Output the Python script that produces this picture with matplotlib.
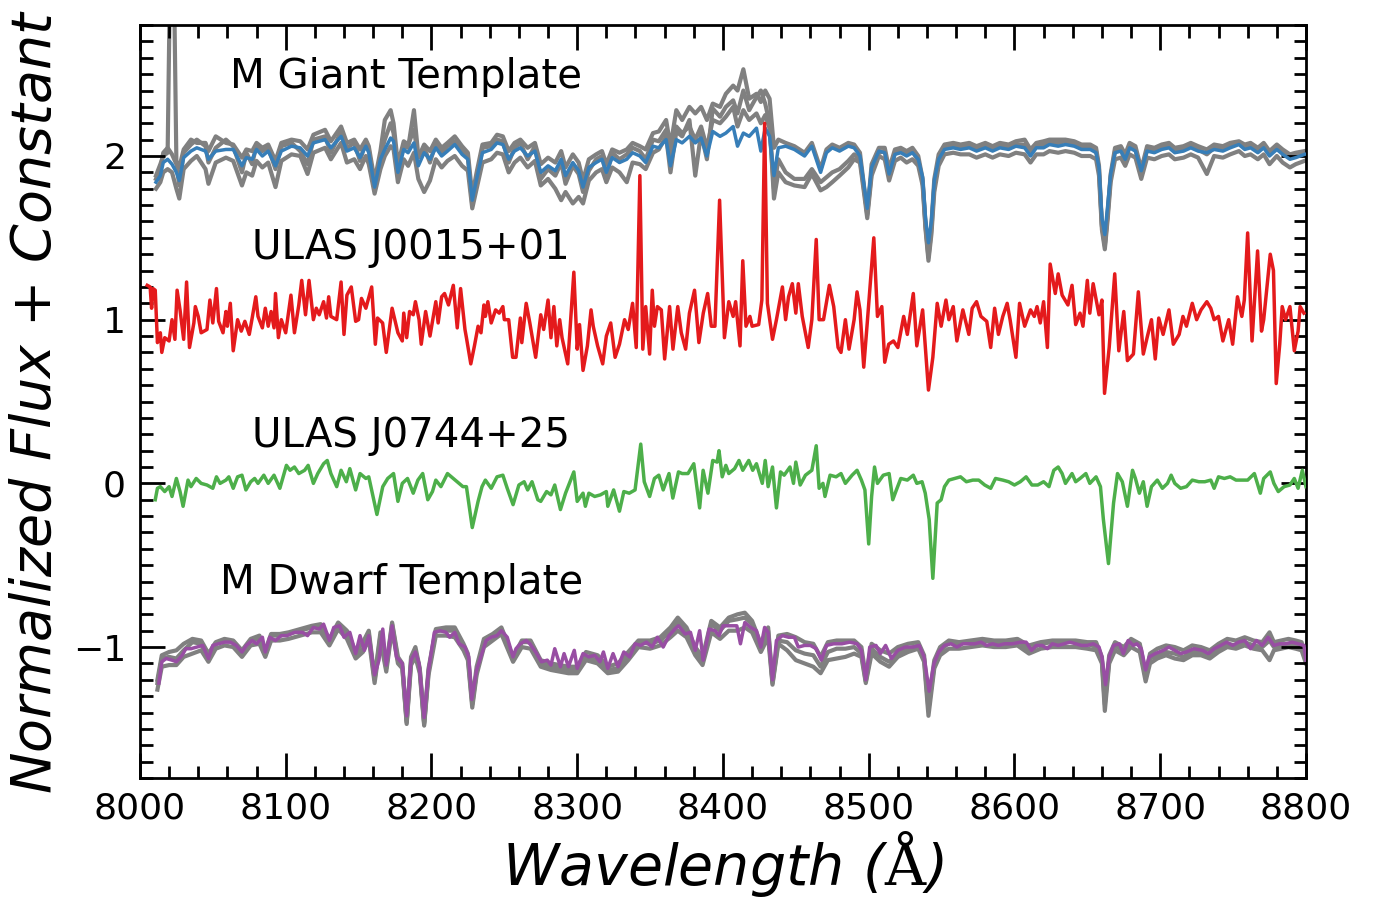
import matplotlib
matplotlib.use("Agg")
import matplotlib.pyplot as plt
from matplotlib.ticker import MultipleLocator

# ---------------- data ----------------
giant_wl = [
    8011, 8014, 8016, 8019, 8022, 8025, 8027, 8030, 8035, 8039,
    8045, 8047, 8052, 8059, 8064, 8070, 8073, 8077, 8080, 8084,
    8088, 8093, 8097, 8104, 8110, 8115, 8119, 8127, 8131, 8138,
    8142, 8147, 8151, 8155, 8157, 8161, 8165, 8168, 8172, 8174,
    8177, 8181, 8184, 8188, 8191, 8195, 8199, 8203, 8207, 8211,
    8216, 8221, 8225, 8228, 8231, 8235, 8241, 8245, 8249, 8253,
    8257, 8261, 8266, 8271, 8275, 8280, 8285, 8289, 8292, 8297,
    8301, 8304, 8308, 8313, 8317, 8320, 8324, 8329, 8334, 8338,
    8343, 8347, 8352, 8356, 8361, 8364, 8368, 8372, 8377, 8381,
    8385, 8389, 8393, 8398, 8402, 8407, 8410, 8414, 8418, 8423,
    8426, 8429, 8432, 8435, 8438, 8443, 8449, 8456, 8461, 8467,
    8471, 8475, 8480, 8486, 8490, 8494, 8497, 8499, 8502, 8507,
    8511, 8514, 8518, 8522, 8526, 8530, 8534, 8537, 8539, 8541,
    8543, 8545, 8548, 8552, 8558, 8563, 8569, 8574, 8580, 8585,
    8590, 8596, 8601, 8607, 8611, 8615, 8620, 8624, 8630, 8635,
    8641, 8646, 8652, 8656, 8658, 8660, 8662, 8664, 8666, 8669,
    8673, 8676, 8679, 8683, 8687, 8691, 8696, 8701, 8706, 8710,
    8716, 8721, 8726, 8732, 8737, 8743, 8748, 8754, 8758, 8762,
    8767, 8771, 8775, 8780, 8784, 8789, 8793, 8799]

giant_template = [
    1.84, 1.88, 1.96, 1.98, 1.95, 1.90, 1.85, 1.99, 2.03, 2.05,
    2.03, 1.98, 2.03, 2.04, 2.04, 1.94, 1.99, 1.98, 2.04, 2.00,
    2.03, 1.94, 2.03, 2.06, 2.05, 2.00, 2.08, 2.10, 2.05, 2.12,
    2.03, 2.05, 1.99, 2.06, 2.02, 1.81, 1.98, 2.04, 2.11, 2.09,
    1.90, 2.04, 2.02, 2.08, 1.94, 2.02, 1.98, 2.05, 2.00, 2.03,
    2.07, 2.01, 1.98, 1.73, 1.86, 2.02, 2.04, 2.08, 2.07, 1.98,
    2.03, 2.05, 2.00, 2.03, 1.90, 1.94, 1.91, 1.98, 1.88, 1.96,
    1.91, 1.81, 1.93, 1.96, 1.98, 1.90, 1.99, 1.96, 1.98, 2.02,
    2.00, 1.96, 2.06, 2.05, 2.10, 1.94, 2.10, 2.08, 2.12, 2.08,
    2.11, 2.00, 2.15, 2.12, 2.14, 2.18, 2.06, 2.14, 2.12, 2.17,
    2.03, 2.17, 2.12, 1.88, 2.05, 2.06, 2.04, 2.00, 2.06, 1.90,
    2.02, 2.05, 2.03, 2.06, 2.05, 2.00, 1.81, 1.68, 1.93, 2.03,
    2.02, 1.89, 2.01, 2.02, 2.00, 2.02, 1.98, 1.87, 1.62, 1.47,
    1.60, 1.85, 1.98, 2.04, 2.05, 2.04, 2.05, 2.03, 2.05, 2.03,
    2.05, 2.04, 2.06, 2.05, 2.00, 2.05, 2.05, 2.07, 2.06, 2.07,
    2.06, 2.04, 2.04, 2.02, 1.93, 1.62, 1.52, 1.70, 1.89, 2.02,
    2.03, 1.98, 2.05, 2.03, 1.91, 2.03, 2.02, 2.04, 2.05, 2.02,
    2.03, 2.05, 2.03, 2.02, 2.04, 2.03, 2.05, 2.07, 2.04, 2.05,
    2.02, 2.05, 2.00, 2.04, 2.01, 1.98, 1.99, 2.01]

giant_star1 = [
    1.88, 1.95, 2.00, 2.02, 4.00, 1.97, 1.93, 2.04, 2.10, 2.08,
    2.08, 2.03, 2.12, 2.08, 2.07, 1.99, 2.04, 2.03, 2.08, 2.05,
    2.07, 1.97, 2.08, 2.10, 2.09, 2.04, 2.13, 2.16, 2.09, 2.18,
    2.08, 2.10, 2.04, 2.10, 2.06, 1.85, 2.03, 2.22, 2.28, 2.20,
    1.95, 2.09, 2.07, 2.16, 1.99, 2.07, 2.03, 2.10, 2.05, 2.08,
    2.12, 2.06, 2.02, 1.76, 1.90, 2.07, 2.08, 2.13, 2.12, 2.03,
    2.08, 2.10, 2.05, 2.08, 1.95, 1.99, 1.96, 2.03, 1.93, 2.01,
    1.96, 1.85, 1.98, 2.01, 2.03, 1.95, 2.04, 2.02, 2.04, 2.08,
    2.06, 2.04, 2.14, 2.15, 2.22, 2.06, 2.28, 2.22, 2.30, 2.26,
    2.30, 2.22, 2.32, 2.30, 2.38, 2.43, 2.40, 2.53, 2.35, 2.38,
    2.33, 2.40, 2.35, 2.05, 2.10, 2.08, 2.06, 2.02, 2.08, 1.92,
    2.04, 2.07, 2.05, 2.08, 2.07, 2.02, 1.80, 1.64, 1.95, 2.05,
    2.05, 1.92, 2.04, 2.05, 2.03, 2.05, 2.00, 1.86, 1.58, 1.40,
    1.58, 1.86, 2.01, 2.07, 2.08, 2.07, 2.08, 2.06, 2.08, 2.06,
    2.08, 2.07, 2.09, 2.10, 2.04, 2.08, 2.09, 2.10, 2.10, 2.10,
    2.09, 2.07, 2.07, 2.05, 1.94, 1.58, 1.46, 1.66, 1.89, 2.05,
    2.06, 2.01, 2.08, 2.06, 1.92, 2.06, 2.05, 2.07, 2.08, 2.05,
    2.06, 2.08, 2.06, 2.04, 2.07, 2.06, 2.08, 2.09, 2.07, 2.08,
    2.05, 2.08, 2.03, 2.07, 2.04, 2.01, 2.02, 2.03]

giant_star2 = [
    1.80, 1.84, 1.90, 1.92, 1.90, 1.80, 1.74, 1.92, 1.97, 2.00,
    1.92, 1.83, 1.96, 1.99, 1.97, 1.82, 1.90, 1.88, 1.97, 1.93,
    1.96, 1.81, 1.97, 2.01, 2.00, 1.89, 2.02, 2.05, 1.98, 2.08,
    1.96, 1.98, 1.92, 2.00, 1.95, 1.77, 1.92, 2.00, 2.06, 2.04,
    1.84, 1.98, 1.94, 2.02, 1.86, 1.78, 1.85, 1.98, 1.93, 1.97,
    2.00, 1.94, 1.91, 1.68, 1.80, 1.96, 1.98, 2.02, 2.01, 1.90,
    1.96, 1.99, 1.93, 1.97, 1.82, 1.86, 1.80, 1.73, 1.78, 1.71,
    1.75, 1.71, 1.85, 1.90, 1.92, 1.84, 1.93, 1.90, 1.84, 1.96,
    1.95, 1.92, 2.02, 2.04, 2.12, 1.90, 2.15, 2.12, 2.22, 1.88,
    2.14, 1.98, 2.29, 2.24, 2.30, 2.34, 2.26, 2.40, 2.28, 2.36,
    2.40, 2.32, 2.20, 1.74, 1.90, 1.84, 1.82, 1.81, 1.89, 1.79,
    1.81, 1.84, 1.88, 1.93, 1.98, 1.96, 1.76, 1.62, 1.88, 2.00,
    1.98, 1.85, 1.97, 1.99, 1.96, 1.98, 1.94, 1.82, 1.55, 1.36,
    1.52, 1.78, 1.94, 2.01, 2.02, 2.01, 2.01, 1.99, 2.01, 1.99,
    2.01, 2.00, 2.02, 2.01, 1.96, 2.01, 2.01, 2.03, 2.02, 2.03,
    2.02, 2.00, 2.00, 1.98, 1.88, 1.55, 1.43, 1.62, 1.84, 1.98,
    1.99, 1.94, 2.01, 1.99, 1.86, 1.99, 1.98, 2.00, 2.01, 1.98,
    1.99, 2.01, 1.99, 1.89, 2.00, 1.99, 2.01, 2.03, 2.00, 2.01,
    1.98, 2.01, 1.95, 2.00, 1.96, 1.93, 1.95, 1.97]

giant_star3 = [
    1.86, 1.92, 2.02, 2.05, 2.01, 1.95, 1.82, 2.02, 2.07, 2.10,
    2.06, 1.96, 2.05, 2.10, 2.06, 1.90, 2.02, 1.95, 2.07, 2.03,
    2.05, 1.92, 2.06, 2.08, 2.03, 1.95, 2.10, 2.12, 2.02, 2.15,
    2.05, 2.08, 1.97, 2.09, 2.04, 1.79, 2.00, 2.10, 2.20, 2.14,
    1.92, 2.06, 2.05, 2.28, 2.00, 2.05, 1.96, 2.08, 2.02, 2.06,
    2.09, 2.04, 1.99, 1.70, 1.84, 2.05, 2.06, 2.10, 2.09, 1.96,
    2.05, 2.08, 1.98, 2.06, 1.86, 1.92, 1.88, 1.96, 1.83, 1.94,
    1.89, 1.78, 1.91, 1.98, 2.00, 1.88, 2.02, 1.98, 2.01, 2.05,
    2.03, 1.98, 2.10, 2.09, 2.16, 1.96, 2.18, 2.14, 2.18, 2.10,
    2.18, 2.05, 2.22, 2.20, 2.24, 2.30, 2.18, 2.28, 2.22, 2.26,
    2.20, 2.25, 2.17, 1.80, 1.98, 1.90, 1.86, 1.86, 1.92, 1.84,
    1.87, 1.90, 1.92, 1.97, 2.01, 1.98, 1.78, 1.65, 1.90, 2.02,
    2.03, 1.88, 2.02, 2.03, 2.01, 2.03, 1.97, 1.84, 1.57, 1.38,
    1.55, 1.82, 1.97, 2.05, 2.06, 2.05, 2.06, 2.04, 2.06, 2.04,
    2.06, 2.05, 2.07, 2.07, 2.01, 2.06, 2.07, 2.08, 2.08, 2.09,
    2.07, 2.05, 2.05, 2.03, 1.92, 1.57, 1.45, 1.65, 1.87, 2.03,
    2.04, 1.97, 2.06, 2.04, 1.88, 2.04, 2.03, 2.05, 2.06, 2.03,
    2.04, 2.06, 2.04, 2.01, 2.05, 2.04, 2.06, 2.08, 2.05, 2.06,
    2.03, 2.06, 2.01, 2.05, 2.02, 1.99, 2.00, 2.02]

ulas0015 = [
    (8005, 1.21), (8007, 1.20), (8008, 1.07), (8009, 1.19), (8010.5, 1.18),
    (8012, 0.86), (8014, 0.92), (8015, 0.80), (8017, 0.89), (8020, 0.87),
    (8022, 1.00), (8024, 0.88), (8025.5, 1.18), (8027.5, 1.06), (8030, 0.88),
    (8032, 1.23), (8034, 0.83), (8037, 0.98), (8038, 1.08), (8040, 1.02),
    (8042, 0.92), (8046, 0.94), (8048, 1.12), (8050, 0.98), (8052.5, 1.19),
    (8054, 0.99), (8057, 0.92), (8059, 1.05), (8060, 0.96), (8062, 1.10),
    (8064, 0.81), (8067, 1.00), (8069.5, 0.93), (8072, 0.99), (8075, 0.91),
    (8077, 1.01), (8079.5, 1.14), (8081, 1.02), (8084, 0.95), (8086, 1.07),
    (8088, 0.96), (8090, 1.05), (8092, 0.95), (8093, 1.16), (8095, 0.89),
    (8097, 1.00), (8100, 0.92), (8103.6, 1.15), (8106, 0.92), (8109, 1.09),
    (8111, 1.24), (8113.6, 1.03), (8116, 1.24), (8119, 1.00), (8121, 1.07),
    (8123, 1.03), (8126, 1.11), (8128, 1.01), (8129.5, 1.14), (8131, 1.02),
    (8135, 1.00), (8138, 1.23), (8140, 0.91), (8142, 1.15), (8145, 1.20),
    (8148, 0.99), (8150, 1.00), (8152, 1.13), (8155, 1.07), (8159, 1.20),
    (8161.5, 0.85), (8163, 1.01), (8166.5, 0.98), (8169, 0.80), (8173, 1.07),
    (8177, 0.92), (8180, 0.87), (8181, 1.04), (8183, 0.89), (8185, 1.05),
    (8187.5, 1.03), (8189, 1.11), (8191.5, 1.00), (8193, 0.85), (8196, 1.05),
    (8199, 0.90), (8203, 1.11), (8204.6, 0.98), (8207, 1.14), (8209, 1.16),
    (8211.7, 1.09), (8215, 1.21), (8217.7, 0.95), (8220, 1.19), (8223, 0.94),
    (8224, 0.89), (8227, 0.73), (8229.5, 0.84), (8232, 0.96), (8234, 0.92),
    (8236, 1.09), (8237, 1.02), (8238.7, 1.11), (8241, 0.98), (8244, 1.06),
    (8246.5, 1.04), (8249, 1.08), (8250, 1.00), (8253, 1.00), (8255.7, 0.77),
    (8258, 0.77), (8261, 1.01), (8262, 0.86), (8265, 1.10), (8267.5, 0.98),
    (8271.5, 0.77), (8275, 1.03), (8277, 0.94), (8280, 1.12), (8282, 0.89),
    (8284, 1.08), (8286, 0.84), (8288, 1.00), (8289.6, 0.89), (8293.5, 0.73),
    (8297.7, 1.29), (8300, 0.82), (8301.6, 0.97), (8304, 0.69), (8307, 0.84),
    (8309.5, 1.06), (8311, 0.96), (8314, 0.84), (8317.5, 0.73), (8320, 0.90),
    (8323, 0.98), (8326, 0.77), (8329, 0.85), (8332.5, 1.00), (8335, 0.94),
    (8338, 1.10), (8340.5, 0.83), (8343, 1.88), (8345, 0.82), (8347, 1.08),
    (8349.7, 0.79), (8351.5, 1.18), (8353, 0.96), (8355, 1.08), (8357.7, 1.06),
    (8360, 0.76), (8363.4, 1.08), (8365.7, 0.82), (8369, 1.08), (8371.4, 0.92),
    (8374.4, 0.82), (8377, 1.04), (8380.5, 1.18), (8383.5, 0.86), (8386.5, 1.04),
    (8389.5, 1.16), (8392, 0.96), (8394.5, 0.96), (8397.7, 1.73), (8401, 0.89),
    (8404, 1.11), (8407, 1.02), (8408.7, 1.11), (8411.7, 0.84), (8413.6, 1.36),
    (8415.8, 0.96), (8418.5, 1.02), (8420, 0.96), (8424.5, 0.97), (8426.7, 1.12),
    (8428.6, 2.20), (8430.5, 1.10), (8434, 0.88), (8436.7, 1.00), (8440.8, 1.20),
    (8443, 1.00), (8445, 1.14), (8447.6, 1.22), (8450, 1.04), (8451.7, 1.22),
    (8454.4, 1.02), (8458.5, 0.83), (8461, 1.00), (8464, 1.49), (8466, 1.00),
    (8469, 1.00), (8473, 1.21), (8476, 1.08), (8479, 0.83), (8481, 0.80),
    (8484, 1.00), (8486.5, 0.82), (8490, 1.00), (8492, 1.17), (8494, 1.06),
    (8496.6, 0.71), (8499, 0.98), (8503.5, 1.50), (8506, 1.02), (8509, 1.08),
    (8511, 0.74), (8513.7, 0.85), (8517, 0.87), (8520, 0.83), (8524, 1.02),
    (8526.5, 0.91), (8530.6, 1.16), (8533, 0.84), (8537, 1.06), (8541, 0.57),
    (8544, 0.77), (8547, 1.10), (8549.7, 0.96), (8553, 1.12), (8555, 1.00),
    (8558, 1.08), (8560.5, 0.87), (8564.6, 1.06), (8568.7, 0.91), (8571, 1.07),
    (8574, 1.11), (8577, 1.02), (8581, 0.99), (8583.7, 0.83), (8586.4, 1.07),
    (8589, 0.91), (8592, 1.02), (8595, 1.10), (8597, 1.00), (8601, 0.77),
    (8603.5, 1.10), (8607, 0.96), (8611, 1.06), (8613.6, 1.02), (8615.5, 1.08),
    (8617.7, 0.98), (8620, 1.11), (8622.6, 0.83), (8624.5, 1.34), (8628, 1.16),
    (8630, 1.28), (8632.7, 1.15), (8636.7, 1.09), (8639.5, 1.21), (8642, 0.97),
    (8645, 1.04), (8647, 0.96), (8650, 1.24), (8651.7, 1.04), (8654, 1.22),
    (8658, 1.03), (8660, 1.12), (8661.8, 0.55), (8665, 0.83), (8668.8, 1.28),
    (8671.6, 0.81), (8675, 1.05), (8677.5, 0.75), (8681.6, 0.79), (8685, 1.17),
    (8688.4, 0.79), (8691, 0.89), (8694, 1.00), (8696.6, 0.76), (8699, 1.01),
    (8702, 0.91), (8706, 1.06), (8709, 0.85), (8713, 0.91), (8715.6, 1.02),
    (8718, 0.96), (8722, 1.10), (8725, 1.00), (8728, 1.06), (8732, 1.11),
    (8734.7, 1.07), (8737, 1.00), (8740, 1.02), (8743, 0.87), (8747, 1.00),
    (8749.7, 0.85), (8753, 1.14), (8756, 1.02), (8757.7, 1.12), (8760, 1.53),
    (8763, 0.87), (8766.8, 1.42), (8769.5, 0.93), (8771, 1.00), (8775.5, 1.40),
    (8777.7, 1.30), (8779.6, 0.61), (8782, 0.85), (8783.7, 1.08), (8786, 1.00),
    (8789, 1.08), (8792, 0.81), (8794.6, 0.93), (8796, 1.08), (8798.6, 1.04)]

ulas0744 = [
    (8010.5, -0.10), (8012, -0.03), (8014, -0.02), (8017, -0.05), (8020, -0.02),
    (8022, -0.08), (8025, 0.03), (8027.5, -0.05), (8029.6, -0.14), (8033, 0.02),
    (8035, -0.02), (8038.6, 0.03), (8042, 0.00), (8046, -0.01), (8050, -0.03),
    (8052.5, 0.04), (8055, 0.00), (8059, 0.02), (8061, 0.04), (8064, -0.03),
    (8067, 0.04), (8070, 0.05), (8072.7, -0.04), (8076, 0.01), (8078.7, 0.03),
    (8081, 0.00), (8085, 0.05), (8088, 0.00), (8092, 0.05), (8096, -0.03),
    (8100.5, 0.11), (8103, 0.08), (8106, 0.10), (8109, 0.06), (8113, 0.08),
    (8115.4, 0.11), (8119, 0.00), (8122, 0.06), (8126, 0.12), (8128.5, 0.14),
    (8131, 0.06), (8135, -0.02), (8138, 0.08), (8141.6, 0.01), (8144, 0.09),
    (8148, -0.04), (8151, 0.06), (8155, 0.03), (8157, 0.04), (8162.6, -0.19),
    (8166.6, -0.02), (8170, 0.03), (8174, 0.06), (8177, -0.11), (8180, 0.00),
    (8183.6, 0.03), (8187.5, -0.06), (8190.7, 0.02), (8194, 0.06), (8197.5, -0.10),
    (8200.7, -0.05), (8203, 0.02), (8206.5, -0.02), (8211, 0.06), (8215, 0.03),
    (8217.7, 0.01), (8221.6, -0.02), (8224, -0.02), (8228, -0.27), (8232, -0.11),
    (8234.7, -0.02), (8237, 0.02), (8241, -0.03), (8245, 0.04), (8249, 0.05),
    (8252, -0.03), (8256, -0.13), (8260, -0.01), (8263.6, 0.01), (8266, -0.04),
    (8269, 0.01), (8273, -0.10), (8275, -0.11), (8279, -0.05), (8282, -0.07),
    (8284.6, -0.01), (8288.5, -0.16), (8292, -0.06), (8297.7, 0.07), (8300, -0.11),
    (8304, -0.06), (8305.6, -0.14), (8308, -0.06), (8312, -0.08), (8316, -0.07),
    (8320, -0.05), (8321, -0.14), (8325, -0.04), (8329, -0.17), (8332, -0.05),
    (8335.7, -0.06), (8339.7, -0.04), (8343.6, 0.24), (8346, 0.01), (8349.7, -0.08),
    (8353, 0.03), (8356, 0.05), (8359, -0.04), (8363, 0.06), (8365.6, -0.09),
    (8369.5, 0.07), (8372, 0.06), (8376, 0.06), (8380, 0.12), (8384, -0.15),
    (8386.4, 0.08), (8389.7, -0.06), (8393, 0.14), (8396, 0.13), (8397.3, 0.20),
    (8399.5, 0.04), (8402, 0.11), (8404, 0.06), (8408, 0.09), (8411, 0.14),
    (8413.6, 0.08), (8417.7, 0.14), (8420.4, 0.08), (8423, 0.12), (8427, 0.00),
    (8429, 0.14), (8431, -0.02), (8434, 0.10), (8436.7, -0.15), (8439.5, 0.07),
    (8442, 0.05), (8446, 0.10), (8448.4, 0.00), (8450, 0.13), (8453, -0.01),
    (8456.6, 0.05), (8461, 0.08), (8464, 0.23), (8466, -0.03), (8468.6, 0.00),
    (8470, -0.08), (8473.5, 0.05), (8477.6, 0.04), (8481, 0.06), (8484, 0.00),
    (8488.6, 0.05), (8492, 0.08), (8495, 0.02), (8497.4, -0.04), (8500, -0.37),
    (8502, -0.08), (8504, 0.10), (8506, 0.00), (8510, 0.05), (8514, 0.06),
    (8516.5, -0.10), (8519, -0.04), (8522, 0.03), (8526.5, 0.02), (8530.6, 0.05),
    (8533, 0.00), (8536.6, 0.01), (8538.8, -0.06), (8541.5, -0.22), (8544, -0.58),
    (8547, -0.12), (8549.7, -0.10), (8552, -0.02), (8555, 0.02), (8559, 0.03),
    (8563, 0.04), (8567, 0.01), (8571.4, 0.02), (8575.5, 0.02), (8579.6, -0.01),
    (8583.7, -0.03), (8587, 0.03), (8592, 0.02), (8596, 0.01), (8600, -0.01),
    (8604, 0.01), (8608, 0.04), (8612, -0.01), (8616, -0.01), (8620, 0.01),
    (8623.7, -0.02), (8627, 0.08), (8630, 0.10), (8632.7, 0.06), (8635, 0.00),
    (8639.5, 0.06), (8642, 0.01), (8645, 0.03), (8649, 0.06), (8651.7, 0.00),
    (8656, 0.04), (8659, -0.02), (8661, -0.22), (8664.5, -0.49), (8668, -0.12),
    (8670.7, 0.06), (8674, 0.01), (8677.5, -0.14), (8681, 0.08), (8683, 0.03),
    (8685.7, -0.06), (8688.4, 0.01), (8691, -0.14), (8694, -0.02), (8698, 0.02),
    (8701.5, -0.03), (8705, 0.00), (8707.5, 0.05), (8710, 0.00), (8714, -0.03),
    (8718, -0.02), (8722, 0.02), (8726.5, 0.01), (8730.6, 0.01), (8734.7, 0.02),
    (8737, -0.03), (8740, 0.04), (8744, 0.03), (8748, 0.04), (8752, 0.02),
    (8756, 0.02), (8760, 0.02), (8764.6, 0.06), (8768.7, -0.06), (8771, 0.03),
    (8775.5, 0.07), (8778, 0.00), (8781, -0.05), (8785, -0.02), (8789, -0.01),
    (8792, 0.03), (8794.6, -0.03), (8797.5, 0.08), (8800, -0.02)]

dwarf_template = [
    (8013, -1.22), (8015, -1.09), (8018, -1.07), (8022, -1.08), (8025, -1.09),
    (8029, -1.05), (8031.5, -1.01), (8035, -1.01), (8039, -1.00), (8043, -0.99),
    (8047, -1.07), (8050, -0.99), (8054, -0.98), (8058, -0.97), (8062, -0.97),
    (8066, -0.99), (8070, -1.03), (8073, -0.99), (8077, -0.96), (8080, -0.98),
    (8084, -0.94), (8086, -1.03), (8089, -0.94), (8093, -0.96), (8097, -0.93),
    (8101, -0.93), (8106, -0.91), (8111.5, -0.91), (8115, -0.93), (8119, -0.88),
    (8123, -0.89), (8126, -0.86), (8130, -0.96), (8133, -0.88), (8137, -0.87),
    (8140, -0.94), (8144, -0.91), (8148, -1.04), (8151, -0.93), (8154, -1.02),
    (8157, -0.93), (8161, -1.17), (8164, -1.08), (8166.6, -0.89), (8169, -1.11),
    (8173, -0.87), (8176, -1.06), (8180, -1.10), (8183, -1.42), (8186, -1.08),
    (8189, -1.03), (8191.5, -1.10), (8195, -1.43), (8198, -1.14), (8202, -0.91),
    (8206, -0.90), (8210, -0.91), (8212.5, -0.94), (8216, -0.91), (8219, -0.98),
    (8223, -1.00), (8225.6, -1.06), (8227.7, -1.32), (8231, -1.14), (8233.5, -1.07),
    (8237.5, -0.96), (8241, -0.94), (8245, -0.93), (8248, -0.90), (8252, -0.94),
    (8256, -1.06), (8258, -1.01), (8261, -0.98), (8265, -0.96), (8267.5, -0.98),
    (8271.5, -1.03), (8275.5, -1.09), (8279.5, -1.08), (8282, -1.11), (8284.6, -1.01),
    (8288.5, -1.12), (8291, -1.04), (8294, -1.12), (8298, -1.02), (8300, -1.13),
    (8304, -1.04), (8308, -1.06), (8312, -1.05), (8315.6, -1.09), (8318, -1.03),
    (8321, -1.13), (8324.6, -1.04), (8328, -1.12), (8332, -1.03), (8336, -1.06),
    (8339.7, -0.98), (8343.6, -0.99), (8347.5, -0.97), (8351.5, -1.00), (8355, -0.94),
    (8359, -1.00), (8363, -0.93), (8367, -0.89), (8369.5, -0.87), (8374, -0.92),
    (8377.7, -0.91), (8381, -1.02), (8384, -0.90), (8386.4, -1.08), (8390.5, -0.89),
    (8394.6, -0.90), (8397.3, -0.93), (8400, -0.87), (8405.4, -0.87), (8409.5, -0.87),
    (8412, -0.98), (8415, -0.85), (8419, -0.88), (8423, -0.90), (8426, -1.00),
    (8428.6, -0.88), (8431, -0.91), (8434, -1.20), (8436.7, -0.96), (8440.8, -0.93),
    (8445, -0.94), (8449, -0.94), (8451.7, -1.00), (8456, -0.99), (8460, -0.99),
    (8464, -1.01), (8467.5, -1.08), (8471, -0.99), (8476, -0.98), (8481.6, -0.98),
    (8487, -0.97), (8492, -0.98), (8495, -1.02), (8498, -1.20), (8500.7, -1.00),
    (8505, -0.99), (8508, -1.04), (8511.6, -0.99), (8515.6, -1.07), (8520, -1.02),
    (8525, -1.00), (8530.6, -1.00), (8534.7, -0.99), (8538, -1.06), (8541.5, -1.27),
    (8544.8, -1.10), (8548, -1.03), (8552, -0.99), (8556.5, -0.98), (8560.5, -1.00),
    (8564.6, -0.98), (8568.7, -0.98), (8572.8, -0.98), (8577, -0.97), (8581, -0.99),
    (8585, -0.98), (8589, -0.99), (8593, -0.98), (8598.6, -0.98), (8604, -0.97),
    (8608, -0.97), (8611.7, -1.02), (8615, -0.99), (8619, -0.99), (8622.6, -1.01),
    (8626, -0.98), (8630, -0.99), (8634, -0.98), (8638, -0.97), (8642, -0.98),
    (8646, -0.99), (8650, -0.99), (8654, -0.98), (8658, -1.00), (8660, -1.06),
    (8662.5, -1.23), (8665, -1.06), (8668, -0.99), (8672, -0.98), (8674.7, -1.04),
    (8678, -0.96), (8681.6, -0.99), (8684, -0.98), (8687, -1.01), (8690, -1.14),
    (8692.5, -1.06), (8696.6, -1.04), (8702, -1.02), (8706, -1.00), (8710, -1.02),
    (8714, -1.04), (8718, -1.03), (8723, -1.01), (8729, -1.02), (8733, -1.04),
    (8737, -1.01), (8741.5, -0.99), (8745.6, -0.97), (8749.7, -0.99), (8753.7, -0.97),
    (8758, -0.96), (8762, -1.01), (8766, -0.96), (8770, -0.99), (8774, -0.94),
    (8778, -0.99), (8782, -0.98), (8786, -0.98), (8790.5, -0.97), (8794.6, -0.98),
    (8798.6, -0.99), (8800, -1.08)]

dwarf_gray_wl = [
    8012, 8015, 8020, 8025, 8030, 8036, 8042, 8047, 8052, 8058,
    8064, 8070, 8076, 8082, 8086, 8090, 8096, 8102, 8110, 8118,
    8124, 8130, 8136, 8142, 8148, 8153, 8157, 8161, 8165, 8169,
    8173, 8177, 8180, 8183, 8186, 8189, 8192, 8195, 8198, 8203,
    8210, 8216, 8222, 8225, 8228, 8231, 8236, 8242, 8248, 8256,
    8262, 8268, 8275, 8282, 8288, 8294, 8300, 8306, 8314, 8321,
    8328, 8335, 8342, 8350, 8357, 8364, 8369, 8375, 8381, 8386,
    8392, 8398, 8404, 8410, 8415, 8420, 8426, 8431, 8434, 8438,
    8444, 8450, 8456, 8462, 8467, 8472, 8478, 8484, 8490, 8495,
    8498, 8502, 8508, 8514, 8520, 8527, 8534, 8538, 8541, 8545,
    8549, 8555, 8562, 8570, 8578, 8586, 8594, 8602, 8610, 8618,
    8626, 8634, 8642, 8650, 8656, 8660, 8662, 8665, 8669, 8675,
    8680, 8686, 8690, 8693, 8698, 8704, 8710, 8716, 8722, 8728,
    8734, 8740, 8746, 8752, 8758, 8764, 8770, 8775, 8778, 8783,
    8788, 8793, 8797, 8800]

dwarf_star1 = [
    -1.20, -1.05, -1.03, -1.02, -0.98, -0.95, -0.96, -1.04, -0.97, -0.95,
    -0.96, -1.02, -0.95, -0.93, -1.02, -0.92, -0.92, -0.91, -0.89, -0.87,
    -0.86, -0.95, -0.85, -0.90, -1.03, -0.97, -0.90, -1.19, -0.91, -1.12,
    -0.85, -1.06, -1.10, -1.45, -1.06, -1.00, -1.13, -1.46, -1.13, -0.89,
    -0.88, -0.88, -0.98, -1.04, -1.33, -1.12, -0.95, -0.92, -0.88, -1.06,
    -0.96, -0.96, -1.08, -1.10, -1.11, -1.12, -1.12, -1.03, -1.05, -1.12,
    -1.10, -1.03, -0.96, -0.96, -0.94, -0.88, -0.82, -0.88, -1.00, -1.06,
    -0.84, -0.88, -0.82, -0.80, -0.79, -0.84, -0.98, -0.88, -1.21, -0.93,
    -0.92, -0.94, -0.97, -0.98, -1.06, -0.97, -0.96, -0.96, -0.96, -1.00,
    -1.18, -0.98, -1.02, -1.04, -1.00, -0.98, -0.97, -1.05, -1.34, -1.08,
    -1.00, -0.96, -0.97, -0.96, -0.95, -0.96, -0.96, -0.95, -0.99, -0.97,
    -0.96, -0.96, -0.96, -0.97, -0.97, -1.06, -1.30, -1.05, -0.97, -1.00,
    -0.95, -0.98, -1.16, -1.04, -1.01, -0.99, -1.00, -1.02, -0.99, -1.00,
    -1.02, -0.98, -0.95, -0.96, -0.94, -0.96, -0.97, -0.91, -0.97, -0.96,
    -0.95, -0.96, -0.97, -1.06]

dwarf_star2 = [
    -1.26, -1.12, -1.11, -1.11, -1.06, -1.04, -1.02, -1.09, -1.01, -0.99,
    -1.00, -1.06, -0.99, -0.98, -1.06, -0.96, -0.96, -0.95, -0.93, -0.91,
    -0.91, -0.99, -0.89, -0.95, -1.07, -1.03, -0.95, -1.22, -0.96, -1.15,
    -0.89, -1.10, -1.13, -1.47, -1.11, -1.06, -1.16, -1.48, -1.17, -0.93,
    -0.93, -0.94, -1.02, -1.08, -1.37, -1.17, -1.00, -0.96, -0.92, -1.09,
    -1.00, -1.01, -1.12, -1.14, -1.15, -1.16, -1.16, -1.08, -1.10, -1.16,
    -1.15, -1.08, -1.00, -1.01, -0.99, -0.94, -0.90, -0.94, -1.05, -1.11,
    -0.91, -0.95, -0.90, -0.90, -0.88, -0.91, -1.03, -0.94, -1.23, -0.98,
    -1.02, -1.08, -1.10, -1.12, -1.16, -1.08, -1.07, -1.06, -1.04, -1.06,
    -1.22, -1.04, -1.09, -1.12, -1.06, -1.03, -1.01, -1.09, -1.42, -1.13,
    -1.05, -1.01, -1.01, -1.00, -0.99, -1.00, -1.00, -0.99, -1.04, -1.01,
    -1.00, -1.00, -1.00, -1.01, -1.02, -1.10, -1.39, -1.10, -1.02, -1.05,
    -1.00, -1.03, -1.21, -1.10, -1.07, -1.05, -1.07, -1.08, -1.05, -1.05,
    -1.07, -1.03, -1.00, -1.01, -0.99, -1.01, -1.02, -1.08, -1.02, -1.01,
    -1.00, -1.01, -1.02, -1.10]

dwarf_star3 = [
    -1.22, -1.07, -1.06, -1.07, -1.02, -0.97, -0.98, -1.08, -0.98, -0.96,
    -0.97, -1.04, -0.96, -0.95, -1.05, -0.93, -0.93, -0.92, -0.90, -0.88,
    -0.88, -0.97, -0.86, -0.92, -1.05, -1.01, -0.92, -1.20, -0.93, -1.13,
    -0.86, -1.08, -1.12, -1.46, -1.09, -1.02, -1.14, -1.47, -1.15, -0.90,
    -0.90, -0.90, -1.00, -1.06, -1.35, -1.15, -0.97, -0.93, -0.89, -1.08,
    -0.97, -0.97, -1.10, -1.12, -1.13, -1.14, -1.14, -1.06, -1.08, -1.14,
    -1.13, -1.06, -0.97, -0.98, -0.96, -0.90, -0.85, -0.90, -1.03, -1.09,
    -0.86, -0.90, -0.84, -0.83, -0.82, -0.86, -1.01, -0.90, -1.22, -0.96,
    -0.97, -1.02, -1.04, -1.05, -1.12, -1.03, -1.01, -1.01, -1.00, -1.04,
    -1.21, -1.01, -1.06, -1.09, -1.04, -1.01, -0.99, -1.07, -1.38, -1.11,
    -1.03, -0.97, -0.98, -0.97, -0.96, -0.97, -0.97, -0.96, -1.02, -0.98,
    -0.97, -0.97, -0.97, -0.98, -1.00, -1.08, -1.35, -1.08, -0.99, -1.03,
    -0.96, -0.99, -1.19, -1.07, -1.05, -1.03, -1.04, -1.06, -1.03, -1.03,
    -1.05, -1.01, -0.98, -0.99, -0.97, -0.99, -1.00, -0.96, -1.00, -0.99,
    -0.98, -0.99, -1.00, -1.08]

labels = ["M Giant Template", "ULAS J0015+01", "ULAS J0744+25", "M Dwarf Template"]
label_x = [8062, 8077, 8077, 8055]
label_y = [2.48, 1.44, 0.29, -0.61]

# ---------------- plotting ----------------
plt.rcParams["mathtext.fontset"] = "custom"
plt.rcParams["mathtext.rm"] = "DejaVu Sans:italic"
plt.rcParams["mathtext.it"] = "DejaVu Sans:italic"
plt.rcParams["mathtext.bf"] = "DejaVu Sans"
plt.rcParams["mathtext.sf"] = "DejaVu Serif"

GRAY = "#808080"
BLUE = "#377eb8"
RED = "#e41a1c"
GREEN = "#4daf4a"
PURPLE = "#984ea3"

fig = plt.figure(figsize=(13.76, 9.01), dpi=100)
ax = fig.add_axes([0.1017, 0.1365, 0.8474, 0.8357])

for g in (giant_star1, giant_star2, giant_star3):
    ax.plot(giant_wl, g, color=GRAY, lw=3.0, zorder=1)
ax.plot(giant_wl, giant_template, color=BLUE, lw=2.5, zorder=3)

for d in (dwarf_star1, dwarf_star2, dwarf_star3):
    ax.plot(dwarf_gray_wl, d, color=GRAY, lw=3.0, zorder=1)
dw, df = zip(*dwarf_template)
ax.plot(dw, df, color=PURPLE, lw=2.5, zorder=3)

rw, rf = zip(*ulas0015)
ax.plot(rw, rf, color=RED, lw=2.5, zorder=4)
gw, gf = zip(*ulas0744)
ax.plot(gw, gf, color=GREEN, lw=2.5, zorder=4)

for t, x, y in zip(labels, label_x, label_y):
    ax.text(x, y, t, fontsize=29, ha="left", va="center", zorder=5)

ax.set_xlim(8000, 8800)
ax.set_ylim(-1.8, 2.8)
ax.xaxis.set_major_locator(MultipleLocator(100))
ax.xaxis.set_minor_locator(MultipleLocator(20))
ax.yaxis.set_major_locator(MultipleLocator(1))
ax.yaxis.set_minor_locator(MultipleLocator(0.1))
ax.tick_params(which="both", direction="in", top=True, right=True, width=2)
ax.tick_params(which="major", length=18, labelsize=26, pad=10)
ax.tick_params(which="minor", length=9)
for s in ax.spines.values():
    s.set_linewidth(2)

ax.set_xlabel(r"$Wavelength\ (\mathsf{Å})$", fontsize=41, labelpad=2)
ax.set_ylabel(r"$Normalized\ Flux\ \mathbf{+}\ Constant$", fontsize=40, labelpad=7)

fig.savefig("out.png", dpi=100)
